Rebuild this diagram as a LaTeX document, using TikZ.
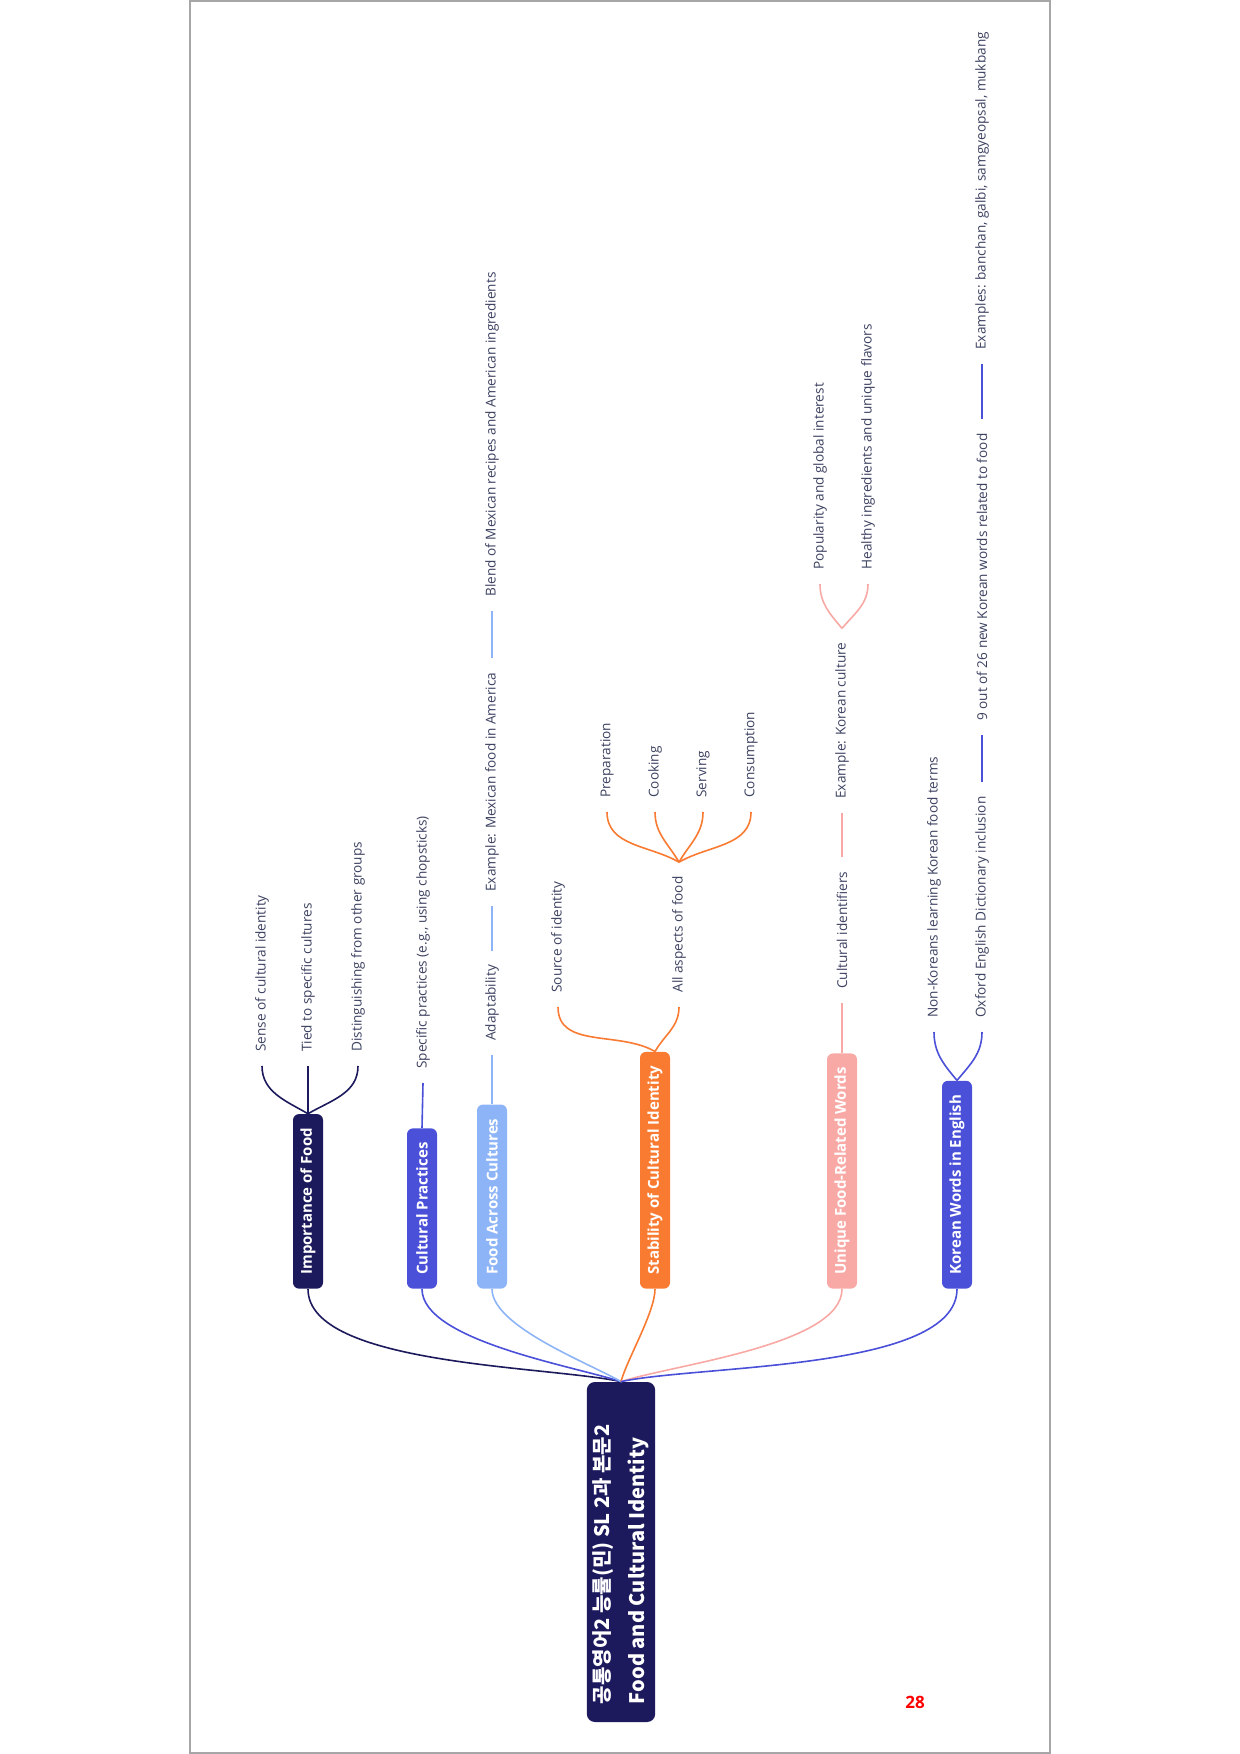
\documentclass[tikz,border=0pt]{standalone}
\usepackage{fontspec}
\setmainfont{Open Sans}
\newfontfamily\krfont{Noto Sans CJK KR}
\usetikzlibrary{positioning}

\definecolor{rootnavy}{HTML}{1C1A5C}
\definecolor{mmviolet}{HTML}{4B50D8}
\definecolor{mmsky}{HTML}{8DB4F7}
\definecolor{mmorange}{HTML}{F97B32}
\definecolor{mmpink}{HTML}{F8A9A5}
\definecolor{leaftext}{HTML}{3C4160}

\tikzset{
  branch/.style={rotate=90, anchor=west, rounded corners=3pt, fill=#1, text=white,
    font=\bfseries\fontsize{7.5}{9}\selectfont, inner xsep=7pt, inner ysep=3pt, minimum height=15pt},
  leaf/.style={rotate=90, anchor=west, text=leaftext, font=\fontsize{6.8}{8}\selectfont,
    inner xsep=7pt, inner ysep=1pt},
  link/.style={draw=#1, line width=0.8pt},
}

\begin{document}
\begin{tikzpicture}[x=0.5pt,y=0.5pt]
  \useasboundingbox (0,0) rectangle (1240,-1754);
  \draw [gray!70, line width=1pt] (190,-1) rectangle (1050,-1753);

  % root and main branches
  \node [rotate=90, fill=rootnavy, text=white, rounded corners=4pt, align=flush left,
    font=\krfont\bfseries\fontsize{10}{17.5}\selectfont, inner xsep=9pt, inner ysep=3pt,
    text width=152pt, minimum height=34pt]
    (root) at (621,-1552) {공통영어2 능률(민) SL 2과 본문2\\Food and Cultural Identity};

  \node [branch=rootnavy] (imp) at (308,-1289) {Importance of Food};
  \node [branch=mmviolet] (cult) at (422,-1289) {Cultural Practices};
  \node [branch=mmsky] (food) at (492,-1289) {Food Across Cultures};
  \node [branch=mmorange] (stab) at (655,-1289) {Stability of Cultural Identity};
  \node [branch=mmpink] (uniq) at (842,-1289) {Unique Food-Related Words};
  \node [branch=mmviolet] (kor) at (957,-1289) {Korean Words in English};

  \draw [link=rootnavy] (root.east) to[out=168,in=-90,looseness=0.6] (imp.west);
  \draw [link=mmviolet] (root.east) to[out=162,in=-90,looseness=0.6] (cult.west);
  \draw [link=mmsky] (root.east) to[out=150,in=-90,looseness=0.6] (food.west);
  \draw [link=mmorange] (root.east) to[out=75,in=-90,looseness=0.6] (stab.west);
  \draw [link=mmpink] (root.east) to[out=18,in=-90,looseness=0.6] (uniq.west);
  \draw [link=mmviolet] (root.east) to[out=12,in=-90,looseness=0.6] (kor.west);

  % Importance of Food
  \node [leaf] (s1) at (262,-1066) {Sense of cultural identity};
  \node [leaf] (s2) at (308,-1066) {Tied to specific cultures};
  \node [leaf] (s3) at (358,-1066) {Distinguishing from other groups};
  \draw [link=rootnavy] (imp.east) to[out=150,in=-90] (s1.west);
  \draw [link=rootnavy] (imp.east) -- (s2.west);
  \draw [link=rootnavy] (imp.east) to[out=30,in=-90] (s3.west);

  % Cultural Practices
  \node [leaf] (c1) at (423,-1083) {Specific practices (e.g., using chopsticks)};
  \draw [link=mmviolet] (cult.east) -- (c1.west);

  % Food Across Cultures
  \node [leaf] (a1) at (492,-1055) {Adaptability};
  \node [leaf] (a2) at (492,-906) {Example: Mexican food in America};
  \node [leaf] (a3) at (492,-611) {Blend of Mexican recipes and American ingredients};
  \draw [link=mmsky] (food.east) -- (a1.west);
  \draw [link=mmsky] (a1.east) -- (a2.west);
  \draw [link=mmsky] (a2.east) -- (a3.west);

  % Stability of Cultural Identity
  \node [leaf] (t1) at (558,-1007) {Source of identity};
  \node [leaf] (t2) at (679,-1007) {All aspects of food};
  \node [leaf] (t3) at (607,-812) {Preparation};
  \node [leaf] (t4) at (655,-812) {Cooking};
  \node [leaf] (t5) at (703,-812) {Serving};
  \node [leaf] (t6) at (751,-812) {Consumption};
  \draw [link=mmorange] (stab.east) to[out=150,in=-90] (t1.west);
  \draw [link=mmorange] (stab.east) to[out=60,in=-90] (t2.west);
  \draw [link=mmorange] (t2.east) to[out=150,in=-90] (t3.west);
  \draw [link=mmorange] (t2.east) to[out=120,in=-90] (t4.west);
  \draw [link=mmorange] (t2.east) to[out=60,in=-90] (t5.west);
  \draw [link=mmorange] (t2.east) to[out=30,in=-90] (t6.west);

  % Unique Food-Related Words
  \node [leaf] (u1) at (842,-1003) {Cultural identifiers};
  \node [leaf] (u2) at (842,-813) {Example: Korean culture};
  \node [leaf] (u3) at (820,-584) {Popularity and global interest};
  \node [leaf] (u4) at (868,-584) {Healthy ingredients and unique flavors};
  \draw [link=mmpink] (uniq.east) -- (u1.west);
  \draw [link=mmpink] (u1.east) -- (u2.west);
  \draw [link=mmpink] (u2.east) to[out=130,in=-90] (u3.west);
  \draw [link=mmpink] (u2.east) to[out=50,in=-90] (u4.west);

  % Korean Words in English
  \node [leaf] (k1) at (934,-1032) {Non-Koreans learning Korean food terms};
  \node [leaf] (k2) at (982,-1032) {Oxford English Dictionary inclusion};
  \node [leaf] (k3) at (982,-735) {9 out of 26 new Korean words related to food};
  \node [leaf] (k4) at (982,-364) {Examples: banchan, galbi, samgyeopsal, mukbang};
  \draw [link=mmviolet] (kor.east) to[out=130,in=-90] (k1.west);
  \draw [link=mmviolet] (kor.east) to[out=50,in=-90] (k2.west);
  \draw [link=mmviolet] (k2.east) -- (k3.west);
  \draw [link=mmviolet] (k3.east) -- (k4.west);

  \node [text=red, font=\bfseries\fontsize{8.5}{10}\selectfont] (page) at (915,-1702) {28};
\end{tikzpicture}
\end{document}
